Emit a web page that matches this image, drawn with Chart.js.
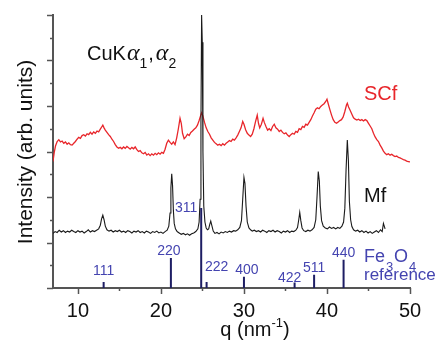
<!DOCTYPE html>
<html>
<head>
<meta charset="utf-8">
<script src="https://cdn.jsdelivr.net/npm/chart.js@4/dist/chart.umd.min.js"></script>
<style>
  body { margin: 0; background: #fff; }
  #grafica { display: block; }
</style>
</head>
<body>
<canvas id="grafica" width="436" height="341"></canvas>
<script>
// datos: q (nm-1) e intensidad (u. arb.)
const scfData = [[7.0,2.78],[7.15,2.98],[7.3,3.12],[7.5,3.22],[7.7,3.26],[7.9,3.21],[8.1,3.23],[8.3,3.18],[8.5,3.21],[8.7,3.16],[8.9,3.19],[9.1,3.15],[9.3,3.14],[9.5,3.18],[9.7,3.22],[9.9,3.27],[10.1,3.31],[10.3,3.29],[10.5,3.35],[10.7,3.37],[10.9,3.34],[11.1,3.39],[11.3,3.37],[11.5,3.42],[11.7,3.38],[11.9,3.43],[12.1,3.40],[12.3,3.45],[12.5,3.43],[12.7,3.49],[12.9,3.55],[13.0,3.58],[13.15,3.52],[13.3,3.47],[13.5,3.42],[13.7,3.37],[13.9,3.33],[14.1,3.27],[14.3,3.22],[14.5,3.15],[14.7,3.10],[14.9,3.07],[15.1,3.09],[15.3,3.06],[15.5,3.10],[15.7,3.07],[15.9,3.11],[16.1,3.08],[16.3,3.05],[16.5,3.09],[16.7,3.06],[16.9,3.10],[17.1,3.04],[17.3,3.00],[17.5,3.02],[17.7,2.97],[17.9,2.95],[18.1,2.98],[18.3,2.92],[18.5,2.95],[18.7,2.91],[18.9,2.95],[19.1,2.92],[19.3,2.96],[19.5,2.93],[19.7,2.97],[19.9,2.94],[20.1,2.98],[20.3,2.96],[20.5,3.05],[20.7,3.18],[20.9,3.25],[21.1,3.20],[21.3,3.16],[21.5,3.21],[21.7,3.15],[21.9,3.30],[22.1,3.50],[22.3,3.73],[22.45,3.62],[22.6,3.40],[22.8,3.28],[23.0,3.32],[23.2,3.38],[23.4,3.35],[23.6,3.42],[23.8,3.45],[24.0,3.49],[24.2,3.52],[24.4,3.58],[24.6,3.68],[24.8,3.80],[24.9,3.85],[25.05,3.78],[25.25,3.64],[25.45,3.52],[25.65,3.44],[25.85,3.38],[26.05,3.30],[26.25,3.25],[26.45,3.20],[26.65,3.17],[26.85,3.14],[27.05,3.16],[27.25,3.13],[27.45,3.17],[27.65,3.14],[27.85,3.18],[28.05,3.21],[28.25,3.24],[28.45,3.22],[28.65,3.27],[28.85,3.25],[29.05,3.30],[29.25,3.36],[29.45,3.44],[29.65,3.52],[29.85,3.66],[30.0,3.60],[30.2,3.48],[30.4,3.40],[30.6,3.36],[30.8,3.33],[31.0,3.38],[31.2,3.50],[31.4,3.66],[31.6,3.80],[31.75,3.62],[31.9,3.52],[32.1,3.60],[32.3,3.73],[32.45,3.64],[32.65,3.55],[32.85,3.47],[33.05,3.50],[33.25,3.46],[33.45,3.55],[33.65,3.60],[33.85,3.52],[34.05,3.49],[34.25,3.44],[34.45,3.47],[34.65,3.42],[34.85,3.39],[35.05,3.41],[35.25,3.36],[35.45,3.33],[35.65,3.37],[35.85,3.40],[36.05,3.38],[36.25,3.44],[36.45,3.42],[36.65,3.50],[36.85,3.48],[37.05,3.55],[37.25,3.53],[37.45,3.60],[37.65,3.58],[37.85,3.64],[38.05,3.70],[38.25,3.78],[38.45,3.85],[38.65,3.93],[38.85,3.96],[39.05,3.94],[39.25,3.99],[39.45,4.02],[39.65,4.05],[39.85,4.10],[40.0,4.15],[40.15,4.05],[40.35,3.92],[40.55,3.80],[40.75,3.70],[40.95,3.64],[41.15,3.62],[41.35,3.65],[41.55,3.68],[41.75,3.70],[41.95,3.76],[42.15,3.88],[42.35,4.02],[42.45,4.06],[42.6,3.98],[42.8,3.90],[43.0,3.82],[43.2,3.74],[43.4,3.71],[43.6,3.69],[43.8,3.71],[44.0,3.68],[44.2,3.70],[44.4,3.67],[44.6,3.70],[44.8,3.68],[45.0,3.62],[45.2,3.56],[45.4,3.50],[45.6,3.40],[45.8,3.32],[46.0,3.26],[46.2,3.22],[46.4,3.14],[46.6,3.08],[46.8,3.01],[47.0,2.96],[47.2,2.93],[47.4,2.95],[47.6,2.92],[47.8,2.94],[48.0,2.91],[48.2,2.89],[48.4,2.90],[48.6,2.87],[48.8,2.86],[49.0,2.84],[49.2,2.82],[49.4,2.81],[49.6,2.79],[49.8,2.78],[50.0,2.77]];

const mfData = [[7.0,1.20],[7.25,1.24],[7.5,1.22],[7.75,1.27],[8.0,1.23],[8.25,1.26],[8.5,1.22],[8.75,1.25],[9.0,1.23],[9.25,1.27],[9.5,1.24],[9.75,1.22],[10.0,1.26],[10.25,1.23],[10.5,1.25],[10.75,1.21],[11.0,1.24],[11.25,1.28],[11.5,1.23],[11.75,1.26],[12.0,1.24],[12.25,1.27],[12.5,1.30],[12.7,1.38],[12.85,1.52],[13.0,1.60],[13.15,1.50],[13.3,1.36],[13.5,1.28],[13.75,1.25],[14.0,1.27],[14.25,1.23],[14.5,1.26],[14.75,1.24],[15.0,1.27],[15.25,1.23],[15.5,1.25],[15.75,1.22],[16.0,1.26],[16.25,1.24],[16.5,1.21],[16.75,1.25],[17.0,1.23],[17.25,1.26],[17.5,1.22],[17.75,1.24],[18.0,1.21],[18.25,1.25],[18.5,1.23],[18.75,1.20],[19.0,1.24],[19.25,1.22],[19.5,1.25],[19.75,1.21],[20.0,1.23],[20.25,1.20],[20.5,1.24],[20.75,1.27],[20.95,1.36],[21.1,1.65],[21.2,2.20],[21.3,2.51],[21.4,2.25],[21.5,1.70],[21.6,1.42],[21.75,1.30],[21.95,1.24],[22.2,1.21],[22.45,1.18],[22.7,1.20],[22.95,1.17],[23.2,1.19],[23.45,1.16],[23.7,1.19],[23.95,1.21],[24.2,1.24],[24.45,1.30],[24.6,1.45],[24.72,1.95],[24.82,3.60],[24.9,6.00],[24.98,5.40],[25.06,3.00],[25.16,1.80],[25.3,1.45],[25.45,1.32],[25.6,1.28],[25.75,1.30],[25.88,1.40],[26.0,1.47],[26.12,1.38],[26.3,1.25],[26.5,1.20],[26.75,1.22],[27.0,1.19],[27.25,1.23],[27.5,1.21],[27.75,1.24],[28.0,1.22],[28.25,1.25],[28.5,1.23],[28.75,1.26],[29.0,1.25],[29.25,1.28],[29.5,1.33],[29.7,1.48],[29.85,1.95],[30.0,2.43],[30.12,2.30],[30.25,1.80],[30.4,1.45],[30.6,1.32],[30.8,1.28],[31.0,1.25],[31.25,1.27],[31.5,1.24],[31.75,1.26],[32.0,1.23],[32.25,1.27],[32.5,1.25],[32.75,1.22],[33.0,1.26],[33.25,1.24],[33.5,1.27],[33.75,1.23],[34.0,1.26],[34.25,1.24],[34.5,1.21],[34.75,1.25],[35.0,1.23],[35.25,1.26],[35.5,1.22],[35.75,1.25],[36.0,1.24],[36.25,1.27],[36.45,1.33],[36.6,1.50],[36.72,1.66],[36.85,1.48],[37.0,1.32],[37.2,1.26],[37.45,1.24],[37.7,1.27],[37.95,1.25],[38.2,1.28],[38.45,1.33],[38.65,1.50],[38.8,2.00],[38.95,2.56],[39.08,2.35],[39.2,1.80],[39.35,1.48],[39.55,1.36],[39.8,1.32],[40.05,1.30],[40.3,1.34],[40.55,1.31],[40.8,1.33],[41.05,1.30],[41.3,1.33],[41.55,1.31],[41.8,1.36],[42.0,1.45],[42.15,1.75],[42.3,2.60],[42.45,3.25],[42.58,2.80],[42.7,1.90],[42.85,1.50],[43.0,1.35],[43.2,1.28],[43.45,1.25],[43.7,1.27],[43.95,1.23],[44.2,1.26],[44.45,1.22],[44.7,1.25],[44.95,1.21],[45.2,1.24],[45.45,1.20],[45.7,1.23],[45.95,1.26],[46.2,1.22],[46.45,1.28],[46.65,1.24],[46.8,1.42],[47.0,1.30]];

// referencia Fe3O4
const refQ = [13.1, 21.2, 24.85, 25.5, 30.0, 36.1, 38.45, 42.0];
const refH = [0.13, 0.66, 1.76, 0.13, 0.25, 0.12, 0.29, 0.62];
const refLabels = ['111', '220', '311', '222', '400', '422', '511', '440'];

const xTicks = [10, 20, 30, 40, 50];

// desplazamiento de cada etiqueta respecto a la punta de su linea (px)
const labelShift = [[0, -12], [-2, -8], [-14, -1], [10, -16], [3, -8], [-5, -6], [0, -8], [0, -8]];

const fuente = '"Liberation Sans", Arial, sans-serif';
const rojo = '#e8262b';
const azul = '#1e1e64';
const azulTexto = '#4444b0';

let sticks = [];
for (let i = 0; i < refQ.length; i++) {
    sticks.push({ x: refQ[i], y: 0 });
    sticks.push({ x: refQ[i], y: refH[i] });
    sticks.push({ x: refQ[i], y: null });
}

const toXY = arr => arr.map(p => ({ x: p[0], y: p[1] }));

const textos = {
    id: 'textos',
    afterDraw(chart) {
        const ctx = chart.ctx;
        const xs = chart.scales.x;
        const ys = chart.scales.y;
        const area = chart.chartArea;
        ctx.save();

        // marcas de los ejes
        ctx.strokeStyle = '#555';
        ctx.lineWidth = 1.5;
        for (let v = 0; v <= 6.001; v += 0.5) {
            let py = Math.round(ys.getPixelForValue(v)) + 0.5;
            let len = (Math.abs(v - Math.round(v)) < 0.01) ? 6 : 3;
            ctx.beginPath();
            ctx.moveTo(area.left, py);
            ctx.lineTo(area.left - len, py);
            ctx.stroke();
        }
        for (let v = 10; v <= 50; v += 5) {
            let px = Math.round(xs.getPixelForValue(v)) + 0.5;
            let len = (v % 10 === 0) ? 6 : 3;
            ctx.beginPath();
            ctx.moveTo(px, area.bottom);
            ctx.lineTo(px, area.bottom + len);
            ctx.stroke();
        }

        // etiquetas de la referencia
        ctx.fillStyle = azulTexto;
        ctx.font = '14px ' + fuente;
        ctx.textAlign = 'center';
        ctx.textBaseline = 'alphabetic';
        for (let i = 0; i < refQ.length; i++) {
            let px = xs.getPixelForValue(refQ[i]) + labelShift[i][0];
            let py = ys.getPixelForValue(refH[i]) + labelShift[i][1];
            if (i === 2) {
                ctx.textAlign = 'right';
                ctx.fillText(refLabels[i], px + 10, py + 5);
                ctx.textAlign = 'center';
            } else {
                ctx.fillText(refLabels[i], px, py + 5);
            }
        }
        ctx.textAlign = 'left';
        ctx.font = '18px ' + fuente;
        ctx.fillText('Fe', 364, 262);
        let w = ctx.measureText('Fe').width;
        ctx.font = '13px ' + fuente;
        ctx.fillText('3', 364 + w + 1, 271);
        ctx.font = '18px ' + fuente;
        ctx.fillText('O', 364 + w + 9, 262);
        let w2 = ctx.measureText('O').width;
        ctx.font = '13px ' + fuente;
        ctx.fillText('4', 364 + w + 9 + w2 + 1, 271);
        ctx.font = '17px ' + fuente;
        ctx.fillText('reference', 364, 280);

        // nombres de las curvas
        ctx.font = '20px ' + fuente;
        ctx.fillStyle = rojo;
        ctx.fillText('SCf', 364, 100);
        ctx.fillStyle = '#111';
        ctx.fillText('Mf', 364, 202);

        // CuK alfa1, alfa2
        let x0 = 87;
        ctx.fillStyle = '#111';
        ctx.font = '20px ' + fuente;
        ctx.fillText('CuK', x0, 60);
        x0 += ctx.measureText('CuK').width + 1;
        ctx.font = 'italic 24px "Liberation Serif", serif';
        ctx.fillText('α', x0, 60);
        x0 += ctx.measureText('α').width;
        ctx.font = '14px ' + fuente;
        ctx.fillText('1', x0, 68);
        x0 += ctx.measureText('1').width;
        ctx.font = '20px ' + fuente;
        ctx.fillText(',', x0 + 1, 60);
        x0 += ctx.measureText(',').width + 3;
        ctx.font = 'italic 24px "Liberation Serif", serif';
        ctx.fillText('α', x0, 60);
        x0 += ctx.measureText('α').width;
        ctx.font = '14px ' + fuente;
        ctx.fillText('2', x0, 68);

        // titulo eje x
        ctx.fillStyle = '#111';
        ctx.font = '20px ' + fuente;
        let t1 = 'q (nm', t2 = '-1', t3 = ')';
        let wa = ctx.measureText(t1).width;
        let wc = ctx.measureText(t3).width;
        ctx.font = '13px ' + fuente;
        let wb = ctx.measureText(t2).width;
        let sx = 255 - (wa + wb + wc) / 2;
        ctx.font = '20px ' + fuente;
        ctx.fillText(t1, sx, 336);
        ctx.font = '13px ' + fuente;
        ctx.fillText(t2, sx + wa, 327);
        ctx.font = '20px ' + fuente;
        ctx.fillText(t3, sx + wa + wb, 336);

        // titulo eje y
        ctx.translate(32, 152);
        ctx.rotate(-Math.PI / 2);
        ctx.textAlign = 'center';
        ctx.font = '21px ' + fuente;
        ctx.fillText('Intensity (arb. units)', 0, 0);
        ctx.restore();
    }
};

let grafica = document.getElementById('grafica').getContext('2d');
let chart = new Chart(grafica, {
    type: 'line',
    data: {
        datasets: [
            {
                label: 'Fe3O4 reference',
                data: sticks,
                borderColor: azul,
                borderWidth: 2,
                pointRadius: 0,
                spanGaps: false,
            },
            {
                label: 'Mf',
                data: toXY(mfData),
                borderColor: '#1a1a1a',
                borderWidth: 1.1,
                pointRadius: 0,
                tension: 0,
            },
            {
                label: 'SCf',
                data: toXY(scfData),
                borderColor: rojo,
                borderWidth: 1.3,
                pointRadius: 0,
                tension: 0,
            }
        ]
    },
    options: {
        responsive: false,
        animation: false,
        events: [],
        layout: { padding: { top: 15, right: 26, left: 0, bottom: 0 } },
        plugins: {
            legend: { display: false },
            tooltip: { enabled: false }
        },
        scales: {
            x: {
                type: 'linear',
                min: 7,
                max: 50,
                grid: { display: false, drawTicks: false },
                border: { display: true, color: '#555', width: 2 },
                ticks: {
                    stepSize: 5,
                    padding: 11,
                    color: '#111',
                    font: { size: 20, family: fuente },
                    callback: v => xTicks.includes(v) ? v : ''
                },
                afterBuildTicks: s => { s.ticks = s.ticks.filter(t => t.value % 5 === 0); },
                afterFit: s => { s.height = 53; }
            },
            y: {
                min: 0,
                max: 6,
                grid: { display: false, drawTicks: false },
                border: { display: true, color: '#555', width: 2 },
                ticks: { display: false },
                afterFit: s => { s.width = 53; }
            }
        }
    },
    plugins: [textos]
});
</script>
</body>
</html>
